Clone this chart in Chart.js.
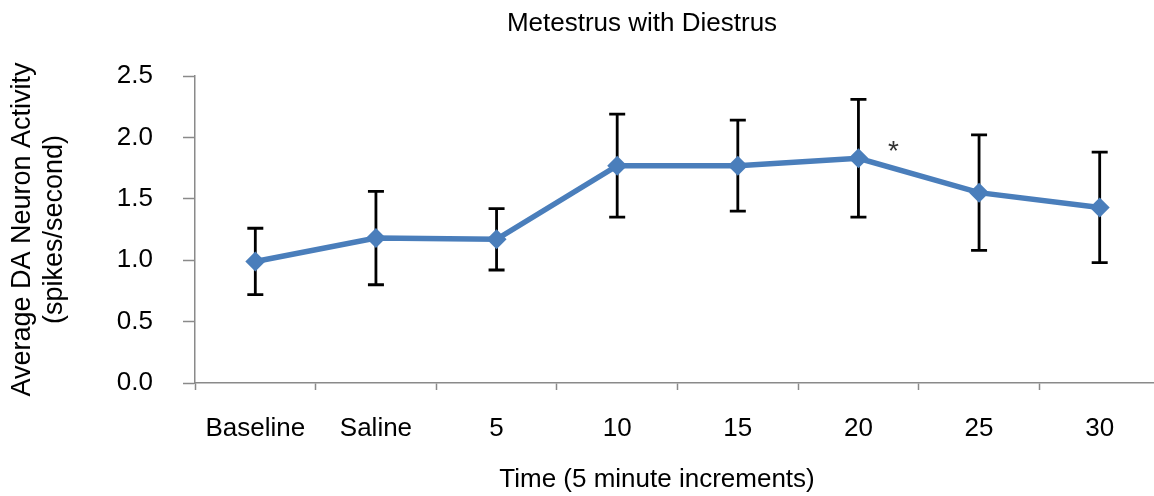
<!DOCTYPE html>
<html>
<head>
<meta charset="utf-8">
<title>Metestrus with Diestrus</title>
<script src="https://cdn.jsdelivr.net/npm/chart.js@4.4.1/dist/chart.umd.min.js"></script>
<style>
    html, body {
        margin: 0;
        padding: 0;
        background: #ffffff;
        overflow: hidden;
    }
    #chartWrap {
        width: 1170px;
        height: 496px;
    }
</style>
</head>
<body>
<div id="chartWrap">
    <canvas id="activityChart" width="1170" height="496"></canvas>
</div>
<script>
// Time points and mean firing rate (+/- error) for each
const timeLabels = ['Baseline', 'Saline', '5', '10', '15', '20', '25', '30'];
const meanActivity = [0.99, 1.18, 1.17, 1.77, 1.77, 1.83, 1.55, 1.43];
const errorActivity = [0.27, 0.38, 0.25, 0.42, 0.37, 0.48, 0.47, 0.45];
const yTicks = [0, 0.5, 1.0, 1.5, 2.0, 2.5];
const significantIdx = [5]; // points marked with *

const chartTitle = 'Metestrus with Diestrus';
const xTitle = 'Time (5 minute increments)';
const yTitle = ['Average DA Neuron Activity', '(spikes/second)'];

const FONT = '"Liberation Sans", Arial, sans-serif';
const LINE_BLUE = '#4a7ebb';
const AXIS_GREY = '#8a8a8a';

// Vertical error bars, drawn before the line so the markers sit on top
const errorBarPlugin = {
    id: 'errorBars',
    beforeDatasetsDraw(chart) {
        const ctx = chart.ctx;
        const x = chart.scales.x;
        const y = chart.scales.y;
        const cap = 8;
        ctx.save();
        ctx.strokeStyle = '#000000';
        ctx.lineWidth = 2.8;
        meanActivity.forEach((m, i) => {
            const px = x.getPixelForValue(i);
            const top = y.getPixelForValue(m + errorActivity[i]);
            const bot = y.getPixelForValue(m - errorActivity[i]);
            ctx.beginPath();
            ctx.moveTo(px, top);
            ctx.lineTo(px, bot);
            ctx.moveTo(px - cap, top);
            ctx.lineTo(px + cap, top);
            ctx.moveTo(px - cap, bot);
            ctx.lineTo(px + cap, bot);
            ctx.stroke();
        });
        ctx.restore();
    }
};

// Chart title, x-axis title and significance markers
const labelsPlugin = {
    id: 'chartLabels',
    afterDraw(chart) {
        const ctx = chart.ctx;
        const x = chart.scales.x;
        const y = chart.scales.y;
        ctx.save();
        ctx.fillStyle = '#000000';
        ctx.textAlign = 'center';
        ctx.textBaseline = 'alphabetic';
        ctx.font = '26px ' + FONT;
        ctx.fillText(chartTitle, 642, 31);
        ctx.fillText(xTitle, 657, 487);

        ctx.fillStyle = '#333333';
        ctx.font = '28px ' + FONT;
        significantIdx.forEach(i => {
            const px = x.getPixelForValue(i);
            const py = y.getPixelForValue(meanActivity[i]);
            ctx.fillText('*', px + 35, py + 2);
        });
        ctx.restore();
    }
};

class ActivityChart {
    constructor(canvasId) {
        this.canvas = document.getElementById(canvasId);
        this.init();
    }

    init() {
        new Chart(this.canvas, {
            type: 'line',
            data: {
                labels: timeLabels,
                datasets: [{
                    data: meanActivity,
                    borderColor: LINE_BLUE,
                    backgroundColor: LINE_BLUE,
                    borderWidth: 5.5,
                    pointStyle: 'rectRot',
                    pointRadius: 10,
                    pointHoverRadius: 10,
                    pointBorderWidth: 0,
                    tension: 0,
                    fill: false
                }]
            },
            options: {
                responsive: false,
                animation: false,
                layout: {
                    padding: { left: 6, right: 7, top: 76, bottom: 0 }
                },
                plugins: {
                    legend: { display: false },
                    tooltip: { enabled: false }
                },
                scales: {
                    x: {
                        offset: true,
                        grid: {
                            offset: true,
                            drawOnChartArea: false,
                            drawTicks: true,
                            tickLength: 7,
                            tickColor: AXIS_GREY,
                            tickWidth: 1.5
                        },
                        border: { color: AXIS_GREY, width: 1.5 },
                        ticks: {
                            color: '#000000',
                            padding: 23,
                            maxRotation: 0,
                            autoSkip: false,
                            font: { family: FONT, size: 26 }
                        },
                        afterFit(scale) {
                            scale.height = 113;
                        }
                    },
                    y: {
                        min: 0,
                        max: 2.5,
                        afterBuildTicks(scale) {
                            scale.ticks = yTicks.map(v => ({ value: v }));
                        },
                        grid: {
                            drawOnChartArea: false,
                            drawTicks: true,
                            tickLength: 12,
                            tickColor: AXIS_GREY,
                            tickWidth: 1.5
                        },
                        border: { color: AXIS_GREY, width: 1.5 },
                        ticks: {
                            color: '#000000',
                            padding: 30,
                            font: { family: FONT, size: 26 },
                            callback: function(value) {
                                return Number(value).toFixed(1);
                            }
                        },
                        title: {
                            display: true,
                            text: yTitle,
                            color: '#000000',
                            padding: 0,
                            font: { family: FONT, size: 27, lineHeight: 1.2 }
                        },
                        afterFit(scale) {
                            scale.width = 189;
                        }
                    }
                }
            },
            plugins: [errorBarPlugin, labelsPlugin]
        });
    }
}

document.addEventListener('DOMContentLoaded', () => {
    new ActivityChart('activityChart');
});
</script>
</body>
</html>
